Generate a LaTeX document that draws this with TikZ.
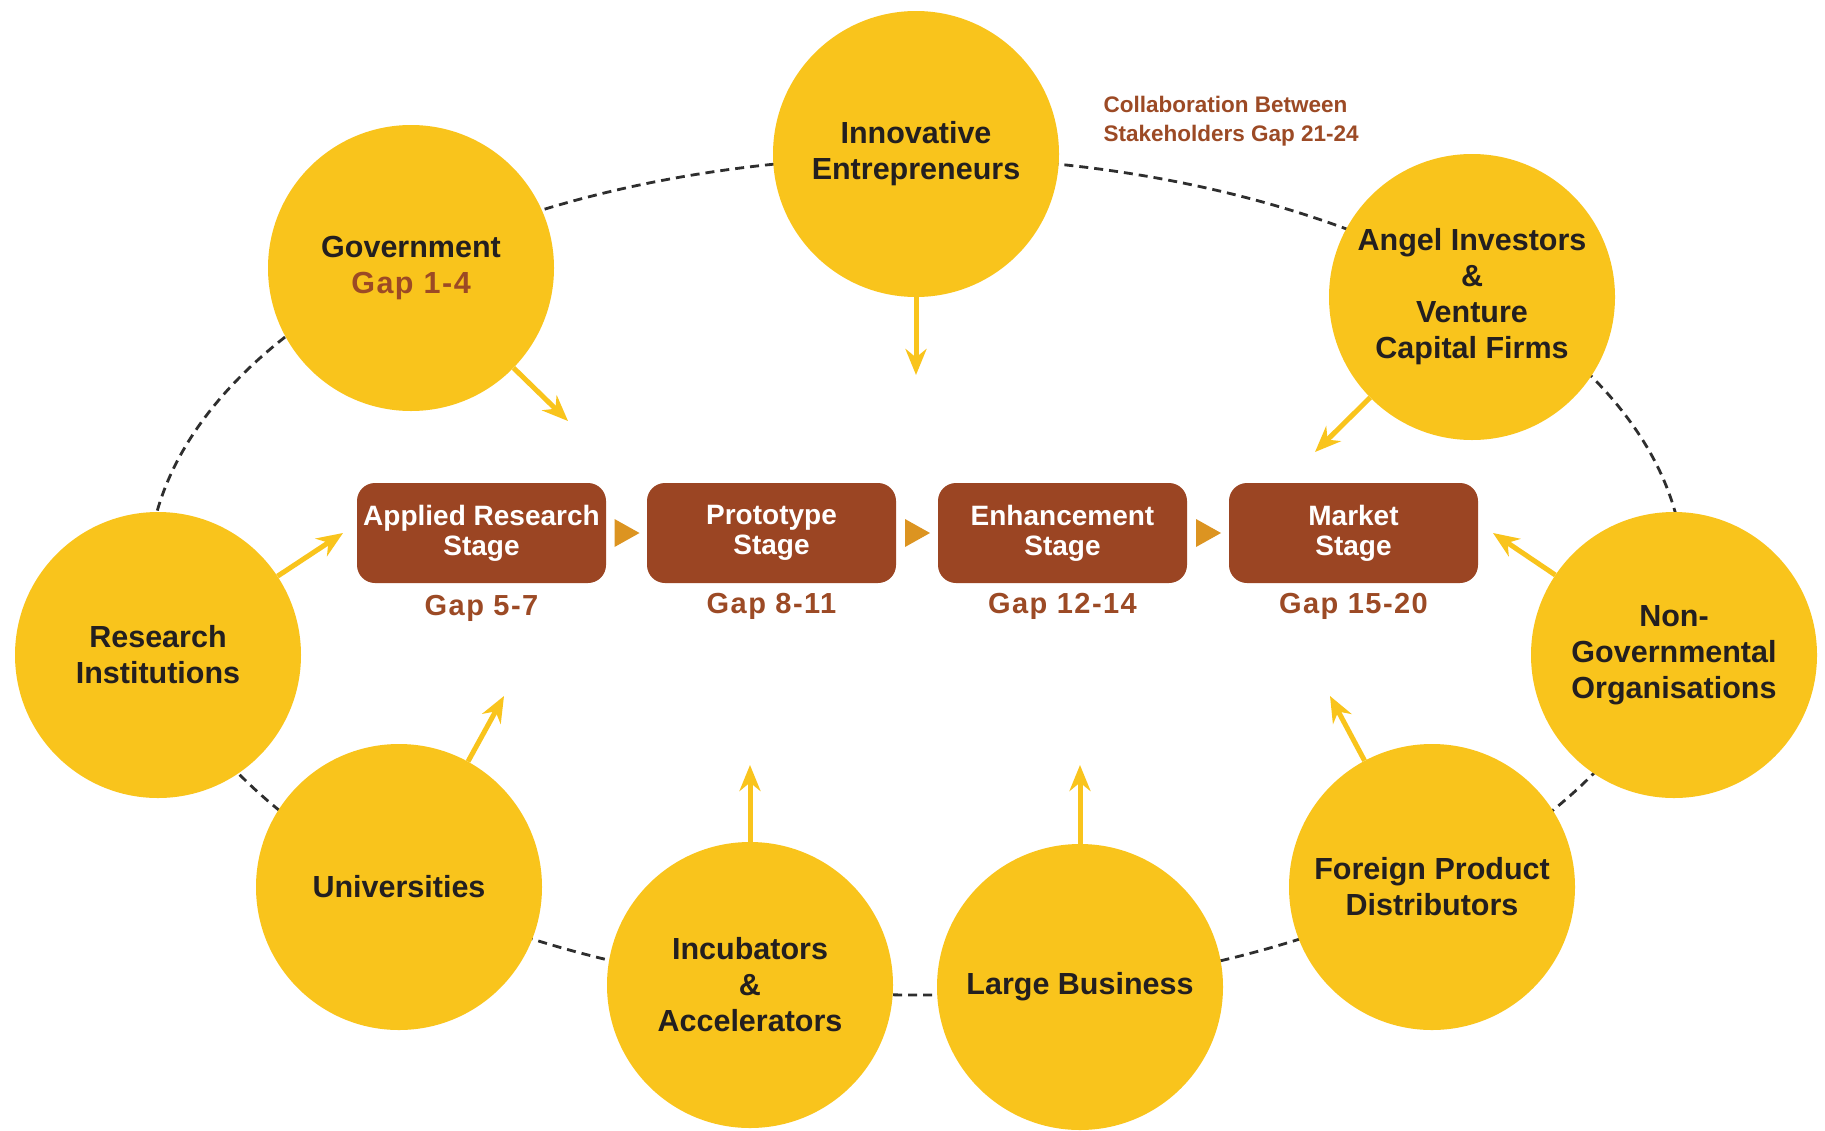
\documentclass[tikz,border=0pt]{standalone}
\usepackage{fontspec}
\setmainfont{Liberation Sans}
\usetikzlibrary{arrows.meta,calc}
\definecolor{gold}{HTML}{F9C41C}
\definecolor{boxbrown}{HTML}{9B4523}
\definecolor{tri}{HTML}{DC9421}
\definecolor{gaptext}{HTML}{9C4A25}
\definecolor{darktext}{HTML}{231F20}
\definecolor{dashgray}{HTML}{2E2E2E}
\newcommand{\gapfont}{\addfontfeature{LetterSpace=5}}
\tikzset{
  actor/.style={circle, fill=gold, draw=none, minimum size=286pt, inner sep=0pt,
    align=center, text=darktext, font=\fontsize{30.5}{36}\selectfont\bfseries},
  stagebox/.style={rectangle, rounded corners=18pt, fill=boxbrown, draw=none,
    minimum width=249pt, minimum height=100pt, inner sep=0pt, align=center,
    text=white, font=\fontsize{28}{30}\selectfont\bfseries},
  gaplabel/.style={text=gaptext, font=\fontsize{29}{34}\selectfont\bfseries\gapfont},
  feed/.style={draw=gold, line width=5pt, -{Stealth[length=26pt,width=21pt]}},
  ring/.style={draw=dashgray, line width=2.8pt, dash pattern=on 9pt off 6pt},
}
\begin{document}
\begin{tikzpicture}[x=1pt,y=-1pt]
\useasboundingbox[fill=white] (0,0) rectangle (1825,1130);
% dashed ring
\draw[ring] (916,576) ellipse [x radius=768pt, y radius=419pt];
% stakeholder circles
\node[actor] (inno) at (916,154) {Innovative\\Entrepreneurs};
\node[actor] (gov) at (411,268) {Government\\{\gapfont\textcolor{gaptext}{Gap 1-4}}};
\node[actor] (angel) at (1472,297) {Angel Investors\\\&\\Venture\\Capital Firms};
\node[actor] (res) at (158,655) {Research\\Institutions};
\node[actor] (ngo) at (1674,655) {Non-\\Governmental\\Organisations};
\node[actor] (uni) at (399,887) {Universities};
\node[actor] (incu) at (750,985) {Incubators\\\&\\Accelerators};
\node[actor] (large) at (1080,987) {Large Business};
\node[actor] (foreign) at (1432,887) {Foreign Product\\Distributors};
% stages
\node[stagebox] (s1) at (481.5,533) {Applied Research\\Stage};
\node[stagebox] (s2) at (771.5,533) {Prototype\\Stage};
\node[stagebox] (s3) at (1062.5,533) {Enhancement\\Stage};
\node[stagebox] (s4) at (1353.5,533) {Market\\Stage};
% triangles between stages
\foreach \a/\b in {s1/s2,s2/s3,s3/s4}{
  \fill[tri] ($(\a.east)!0.5!(\b.west)+(-12,-14)$) -- ++(25,14) -- ++(-25,14) -- cycle;
}
% gap labels
\node[gaplabel] (g1) at (481.5,608) {Gap 5-7};
\node[gaplabel] (g2) at (771.5,606) {Gap 8-11};
\node[gaplabel] (g3) at (1062.5,606) {Gap 12-14};
\node[gaplabel] (g4) at (1353.5,606) {Gap 15-20};
% collaboration label
\node[anchor=west, align=left, text=gaptext, font=\fontsize{22.5}{29}\selectfont\bfseries]
  (collab) at (1100,121) {Collaboration Between\\Stakeholders Gap 21-24};
% arrow end points
\coordinate (eGov) at (568,421);
\coordinate (eInno) at (916,375);
\coordinate (eAngel) at (1315,452);
\coordinate (eRes) at (343,533);
\coordinate (eNgo) at (1493,533);
\coordinate (eUni) at (504,696);
\coordinate (eIncu) at (750,765);
\coordinate (eLarge) at (1080,765);
\coordinate (eFor) at (1330,696);
\draw[feed] (gov) -- (eGov);
\draw[feed] (inno) -- (eInno);
\draw[feed] (angel) -- (eAngel);
\draw[feed] (res) -- (eRes);
\draw[feed] (ngo) -- (eNgo);
\draw[feed] (uni) -- (eUni);
\draw[feed] (incu) -- (eIncu);
\draw[feed] (large) -- (eLarge);
\draw[feed] (foreign) -- (eFor);
\end{tikzpicture}
\end{document}
